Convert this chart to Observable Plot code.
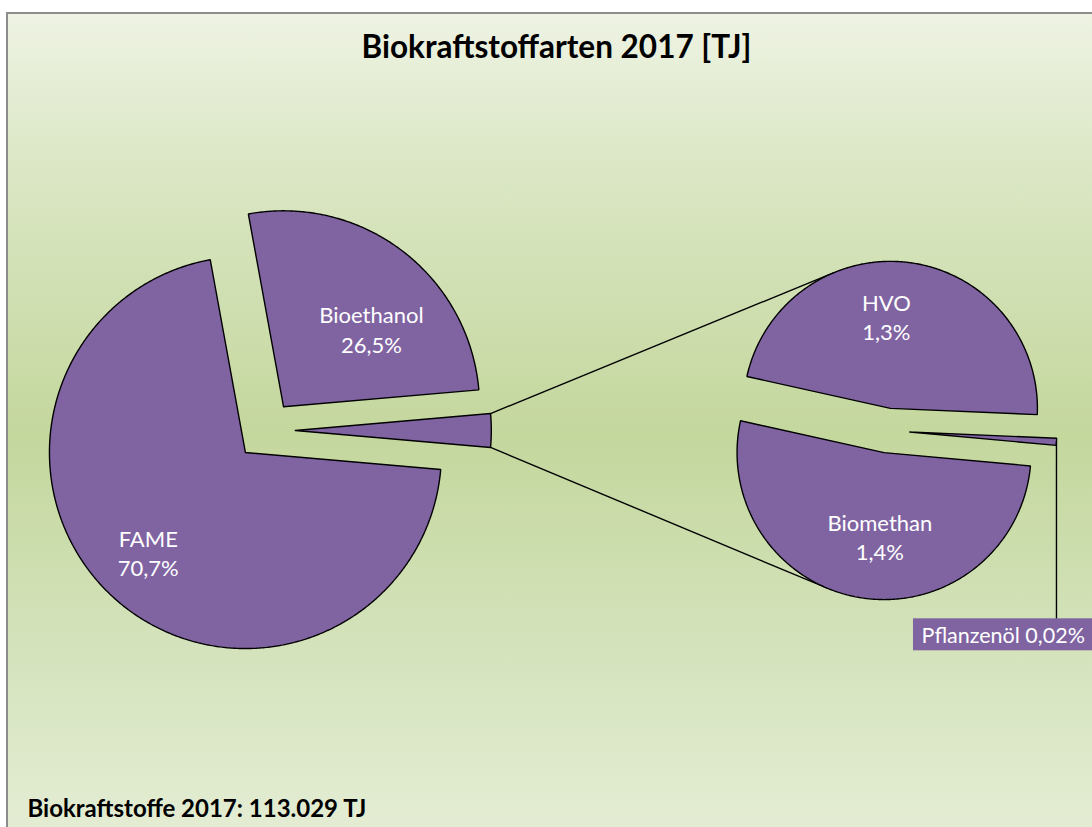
<!DOCTYPE html>
<html>
<head>
<meta charset="utf-8">
<script src="https://cdn.jsdelivr.net/npm/d3@7"></script>
<script src="https://cdn.jsdelivr.net/npm/@observablehq/plot@0.6"></script>
<style>
  html, body { margin:0; padding:0; background:#ffffff; }
  body { width:1092px; height:827px; overflow:hidden; position:relative; font-family: Lato, "Open Sans", sans-serif; }
  #frame {
    position:absolute; left:6px; top:12px; width:1100px; height:840px;
    border:2px solid #8c8c8c;
    background: linear-gradient(to bottom, #eef3e3 0%, #dbe7c5 18%, #c4d79d 50%, #d7e5c1 80%, #e6eed6 100%);
  }
  #chart { position:absolute; left:0; top:0; }
</style>
</head>
<body>
<div id="frame"></div>
<div id="chart"></div>
<script>
// ---- data ----
const title = "Biokraftstoffarten 2017 [TJ]";
const totalLabel = "Biokraftstoffe 2017: 113.029 TJ";
const categories = ["FAME", "Bioethanol", "HVO", "Biomethan", "Pflanzenöl"];
const energyTJ = [79965, 29950, 1470, 1620, 24];
const mainCategories = ["FAME", "Bioethanol"];            // first pie (plus "other")
const secondCategories = ["HVO", "Pflanzenöl", "Biomethan"]; // second pie, clockwise

// ---- layout ----
const W = 1092, H = 827;
const MAIN = {cx: 265, cy: 430, r: 196};
const SECOND = {cx: 887, cy: 430, r: 147};
const EXPLODE = 0.152;
const SECOND_START = -77.5;      // degrees clockwise from 12 o'clock
const PURPLE = "#8064a2";
const labelPlacement = {FAME: [0.71, 2], Bioethanol: [0.6, 11], HVO: [0.63, -10], Biomethan: [0.57, -6]};

const value = new Map(categories.map((c, i) => [c, energyTJ[i]]));
const total = d3.sum(energyTJ);
const otherTotal = d3.sum(secondCategories, c => value.get(c));
const pctText = v => {
  const p = v / total * 100;
  return p.toLocaleString("de-DE", {minimumFractionDigits: p < 0.1 ? 2 : 1, maximumFractionDigits: p < 0.1 ? 2 : 1}) + "%";
};
const rad = a => a * Math.PI / 180;
const pt = (cx, cy, r, a) => [cx + r * Math.sin(rad(a)), cy - r * Math.cos(rad(a))];

function layout(items, start, pie) {
  const sum = d3.sum(items, d => d.v);
  let a = start;
  return items.map(d => {
    const a0 = a, a1 = a + d.v / sum * 360;
    a = a1;
    const mid = (a0 + a1) / 2;
    const [ox, oy] = pt(pie.cx, pie.cy, pie.r * EXPLODE, mid);
    return {...d, a0, a1, mid, ox, oy, r: pie.r};
  });
}

const otherDeg = otherTotal / total * 360;
const mainSlices = layout(
  [{name: "Sonstige", v: otherTotal}, ...mainCategories.map(c => ({name: c, v: value.get(c)}))],
  90 - otherDeg / 2, MAIN);
const secondSlices = layout(secondCategories.map(c => ({name: c, v: value.get(c)})), SECOND_START, SECOND);
const slices = [...mainSlices, ...secondSlices];

const polyPoints = slices.flatMap(s => {
  const n = Math.max(2, Math.ceil((s.a1 - s.a0) / 0.5));
  const pts = [[s.ox, s.oy]];
  for (let i = 0; i <= n; i++) pts.push(pt(s.ox, s.oy, s.r, s.a0 + (s.a1 - s.a0) * i / n));
  pts.push([s.ox, s.oy]);
  return pts.map(([x, y]) => ({name: s.name, x, y}));
});

// connector lines: from "other" slice outer corners, tangent to exploded second-pie slices
function tangent(P, Q, r, up) {
  const dx = P[0] - Q[0], dy = P[1] - Q[1], d = Math.hypot(dx, dy);
  const ux = dx / d, uy = dy / d, al = Math.acos(r / d);
  const rot = a => [ux * Math.cos(a) - uy * Math.sin(a), ux * Math.sin(a) + uy * Math.cos(a)];
  let v = rot(al);
  if ((up && v[1] > 0) || (!up && v[1] < 0)) v = rot(-al);
  return [Q[0] + r * v[0], Q[1] + r * v[1]];
}
const other = mainSlices[0];
const hvo = secondSlices.find(s => s.name === "HVO");
const bio = secondSlices.find(s => s.name === "Biomethan");
const pfl = secondSlices.find(s => s.name === "Pflanzenöl");
const topP = pt(other.ox, other.oy, other.r, other.a0);
const botP = pt(other.ox, other.oy, other.r, other.a1);
const topQ = tangent(topP, [hvo.ox, hvo.oy], hvo.r, true);
const botQ = tangent(botP, [bio.ox, bio.oy], bio.r, false);
const connectors = [
  {x1: topP[0], y1: topP[1], x2: topQ[0], y2: topQ[1]},
  {x1: botP[0], y1: botP[1], x2: botQ[0], y2: botQ[1]}
];

// labels inside slices
const insideLabels = slices.filter(s => labelPlacement[s.name]).map(s => {
  const [k, da] = labelPlacement[s.name];
  const [x, y] = pt(s.ox, s.oy, s.r * k, s.mid + da);
  return {x, y, text: s.name + "\n" + pctText(s.v)};
});

// Pflanzenöl callout
const pflOuter = pt(pfl.ox, pfl.oy, pfl.r, pfl.mid);
const calloutY = pflOuter[1] + 177;
const leader = [{x1: pflOuter[0], y1: pflOuter[1], x2: pflOuter[0], y2: calloutY}];
const callout = [{x1: pflOuter[0] - 143, x2: pflOuter[0] + 50, y1: calloutY, y2: calloutY + 32,
  tx: pflOuter[0] - 135, ty: calloutY + 17, text: pfl.name + " " + pctText(pfl.v)}];

const chart = Plot.plot({
  width: W, height: H,
  margin: 0,
  x: {domain: [0, W], range: [0, W], axis: null},
  y: {domain: [0, H], range: [0, H], axis: null},
  style: {background: "transparent", fontFamily: "Lato, 'Open Sans', sans-serif", overflow: "visible"},
  marks: [
    Plot.link(connectors, {x1: "x1", y1: "y1", x2: "x2", y2: "y2", stroke: "black", strokeWidth: 1.4}),
    Plot.line(polyPoints, {x: "x", y: "y", z: "name", fill: PURPLE, stroke: "black", strokeWidth: 1.4, strokeLinejoin: "miter", curve: "linear"}),
    Plot.link(leader, {x1: "x1", y1: "y1", x2: "x2", y2: "y2", stroke: "black", strokeWidth: 1.4}),
    Plot.rect(callout, {x1: "x1", x2: "x2", y1: "y1", y2: "y2", fill: PURPLE}),
    Plot.text(callout, {x: "tx", y: "ty", text: "text", fill: "white", fontSize: 21.5, textAnchor: "start"}),
    Plot.text(insideLabels, {x: "x", y: "y", text: "text", fill: "white", fontSize: 22, lineHeight: 1.33}),
    Plot.text([title], {frameAnchor: "top", dx: 10, dy: 35, fontSize: 31.5, fontWeight: "bold", fill: "black"}),
    Plot.text([totalLabel], {frameAnchor: "bottom-left", dx: 27, dy: -11, fontSize: 24, fontWeight: "bold", fill: "black"})
  ]
});
document.getElementById("chart").appendChild(chart);
</script>
</body>
</html>
